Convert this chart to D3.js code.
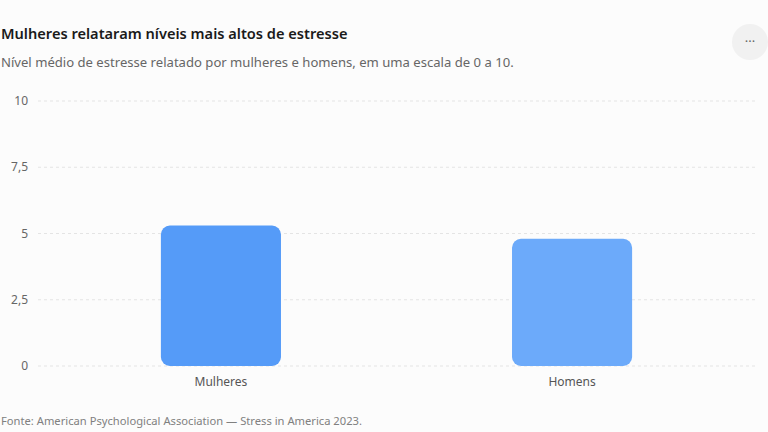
<!DOCTYPE html>
<html>
<head>
<meta charset="utf-8">
<script src="https://cdn.jsdelivr.net/npm/d3@7"></script>
<style>
  body { margin: 0; background: #fcfcfc; font-family: "Segoe UI", "Noto Sans", "Open Sans", sans-serif; }
</style>
</head>
<body>
<script>
// data
const categories = ["Mulheres", "Homens"];
const values = [5.3, 4.8];
const barColors = ["#559bf8", "#6caafa"];
const yTicks = [0, 2.5, 5, 7.5, 10];
const yTickLabels = ["0", "2,5", "5", "7,5", "10"];

const w = 768;
const h = 432;

const svg = d3.select("body")
    .append("svg")
    .attr("width", w)
    .attr("height", h);

svg.append("rect")
    .attr("width", w)
    .attr("height", h)
    .attr("fill", "#fcfcfc");

// title + subtitle
svg.append("text")
    .attr("x", 1)
    .attr("y", 39)
    .text("Mulheres relataram níveis mais altos de estresse")
    .style("font-size", "14.6px")
    .style("font-weight", "600")
    .attr("fill", "#1a1a1a");

svg.append("text")
    .attr("x", 1)
    .attr("y", 67)
    .text("Nível médio de estresse relatado por mulheres e homens, em uma escala de 0 a 10.")
    .style("font-size", "13.1px")
    .attr("fill", "#666");

// the "..." button
svg.append("circle")
    .attr("cx", 750)
    .attr("cy", 42)
    .attr("r", 18)
    .attr("fill", "#f1f1f1");
svg.append("text")
    .attr("x", 750)
    .attr("y", 46)
    .attr("text-anchor", "middle")
    .text("···")
    .style("font-size", "13px")
    .attr("fill", "#666");

const x = d3.scaleBand()
    .domain(categories)
    .range([38, 755])
    .paddingInner(0.658)
    .paddingOuter(0.35);

const y = d3.scaleLinear()
    .domain([0, 10])
    .range([366, 101]);

// grid lines
svg.selectAll("line.grid")
    .data(yTicks)
    .enter()
    .append("line")
    .attr("class", "grid")
    .attr("x1", 38)
    .attr("x2", 755)
    .attr("y1", d => y(d))
    .attr("y2", d => y(d))
    .attr("stroke", "#e4e4e4")
    .attr("stroke-width", 1)
    .attr("stroke-dasharray", "3,3");

// y tick labels
svg.selectAll("text.ytick")
    .data(yTicks)
    .enter()
    .append("text")
    .attr("class", "ytick")
    .attr("x", 28)
    .attr("y", d => y(d) + 4)
    .attr("text-anchor", "end")
    .text((d, i) => yTickLabels[i])
    .style("font-size", "12px")
    .attr("fill", "#666");

// bars, rounded corners
svg.selectAll("rect.bar")
    .data(values)
    .enter()
    .append("rect")
    .attr("class", "bar")
    .attr("x", (d, i) => x(categories[i]))
    .attr("y", d => y(d))
    .attr("width", x.bandwidth())
    .attr("height", d => y(0) - y(d))
    .attr("rx", 9)
    .attr("fill", (d, i) => barColors[i]);

// category labels
svg.selectAll("text.xtick")
    .data(categories)
    .enter()
    .append("text")
    .attr("class", "xtick")
    .attr("x", d => x(d) + x.bandwidth() / 2)
    .attr("y", 386)
    .attr("text-anchor", "middle")
    .text(d => d)
    .style("font-size", "12px")
    .attr("fill", "#555");

// source
svg.append("text")
    .attr("x", 1)
    .attr("y", 425)
    .text("Fonte: American Psychological Association — Stress in America 2023.")
    .style("font-size", "11.2px")
    .attr("fill", "#808080");
</script>
</body>
</html>
